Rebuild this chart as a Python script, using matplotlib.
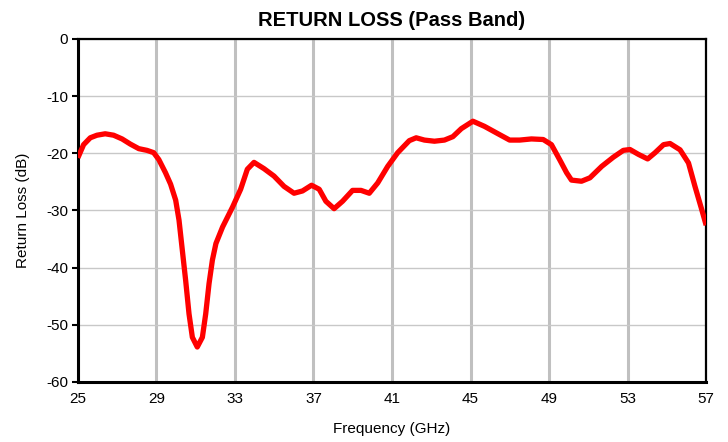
import matplotlib.pyplot as plt

# Return loss
freq_ghz = [25.0, 25.29, 25.63, 25.97, 26.39, 26.82, 27.25, 27.67, 28.1, 28.52,
            28.86, 29.12, 29.46, 29.72, 29.98, 30.15, 30.32, 30.49, 30.66, 30.83,
            31.08, 31.34, 31.51, 31.68, 31.85, 32.03, 32.37, 32.88, 33.29, 33.63,
            33.97, 34.48, 34.99, 35.5, 36.01, 36.44, 36.9, 37.29, 37.63, 38.05,
            38.48, 38.99, 39.42, 39.84, 40.27, 40.78, 41.29, 41.88, 42.23, 42.65,
            43.16, 43.67, 44.1, 44.53, 45.12, 45.71, 46.4, 46.99, 47.5, 48.1,
            48.7, 49.12, 49.55, 49.89, 50.14, 50.65, 51.08, 51.68, 52.27, 52.78,
            53.12, 53.55, 54.02, 54.4, 54.83, 55.16, 55.67, 56.1, 56.43, 56.77,
            57.0]
return_loss_db = [-20.8, -18.5, -17.3, -16.85, -16.6, -16.85, -17.5, -18.4, -19.2, -19.5,
                  -19.9, -21.1, -23.4, -25.4, -28.2, -31.7, -37.0, -42.3, -48.1, -52.2,
                  -53.9, -52.2, -48.1, -42.8, -38.7, -35.8, -32.9, -29.4, -26.3, -22.8,
                  -21.6, -22.7, -24.0, -25.8, -27.0, -26.6, -25.6, -26.3, -28.4, -29.7,
                  -28.4, -26.5, -26.5, -27.0, -25.2, -22.3, -19.9, -17.8, -17.3, -17.7,
                  -17.9, -17.7, -17.1, -15.7, -14.4, -15.3, -16.6, -17.7, -17.7, -17.5,
                  -17.6, -18.5, -21.2, -23.4, -24.7, -24.9, -24.3, -22.3, -20.7, -19.5,
                  -19.35, -20.2, -21.0, -19.9, -18.5, -18.3, -19.4, -21.7, -25.8, -29.8,
                  -32.6]

xticks = [25, 29, 33, 37, 41, 45, 49, 53, 57]
yticks = [0, -10, -20, -30, -40, -50, -60]

plt.rcParams['font.family'] = ['Liberation Sans', 'DejaVu Sans']
plt.rcParams['axes.unicode_minus'] = False

fig = plt.figure(figsize=(7.28, 4.42), dpi=100)
ax = fig.add_axes([0.107, 0.136, 0.863, 0.776])

ax.plot(freq_ghz, return_loss_db, color='#ff0000', linewidth=3.8,
        solid_joinstyle='round', solid_capstyle='butt', zorder=3)

ax.set_xlim(25, 57)
ax.set_ylim(-60, 0)
ax.set_xticks(xticks)
ax.set_yticks(yticks)

# thick vertical grid, thin horizontal grid
ax.grid(axis='x', color='#c0c0c0', linewidth=2.2)
ax.grid(axis='y', color='#c8c8c8', linewidth=1.0)
ax.set_axisbelow(True)

for side in ['left', 'bottom']:
    ax.spines[side].set_linewidth(2.2)
for side in ['top', 'right']:
    ax.spines[side].set_linewidth(1.6)

ax.tick_params(axis='y', direction='out', length=4, width=1.5, labelsize=11, pad=3)
ax.tick_params(axis='x', length=0, labelsize=11, pad=7)

ax.set_title('RETURN LOSS (Pass Band)', fontsize=14.5, fontweight='bold', pad=9)
ax.set_xlabel('Frequency (GHz)', fontsize=11, labelpad=12)
ax.set_ylabel('Return Loss (dB)', fontsize=11, labelpad=12)

fig.savefig('out.png', dpi=100)
